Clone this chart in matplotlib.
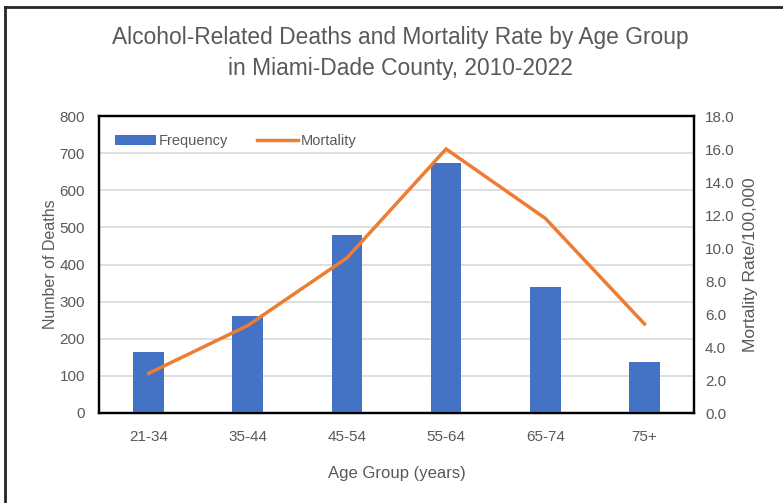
import matplotlib
matplotlib.use('Agg')
import matplotlib.pyplot as plt
from matplotlib.lines import Line2D
import numpy as np

plt.rcParams['font.family'] = ['Liberation Sans', 'DejaVu Sans']

age_groups = ['21-34', '35-44', '45-54', '55-64', '65-74', '75+']
frequency = [164, 261, 480, 673, 340, 137]
mortality = [2.4, 5.3, 9.4, 16.0, 11.8, 5.4]

TEXT = '#595959'
BLUE = '#4472C4'
ORANGE = '#ED7D31'

fig = plt.figure(figsize=(7.83, 5.03), dpi=100)
ax = fig.add_axes([99/783, 1 - 413/503, (694 - 99)/783, (413 - 116)/503])
ax2 = ax.twinx()

x = np.arange(len(age_groups))
bars = ax.bar(x, frequency, width=0.31, color=BLUE, label='Frequency', zorder=3)
line, = ax2.plot(x, mortality, color=ORANGE, linewidth=2.5, label='Mortality',
                 solid_joinstyle='miter')

ax.set_xlim(-0.5, len(age_groups) - 0.5)
ax.set_ylim(0, 800)
ax.set_yticks(range(0, 801, 100))
ax2.set_ylim(0, 18)
ax2.set_yticks(np.arange(0, 18.1, 2))
ax2.set_yticklabels([f'{v:.1f}' for v in np.arange(0, 18.1, 2)])
ax.set_xticks(x)
ax.set_xticklabels(age_groups)

ax.grid(axis='y', color='#d9d9d9', linewidth=1.2, zorder=0)
ax.set_axisbelow(True)

for a in (ax, ax2):
    a.tick_params(length=0, colors=TEXT, labelsize=11)
    for s in a.spines.values():
        s.set_color('black')
        s.set_linewidth(1.6)
ax.tick_params(axis='x', pad=12)
ax.tick_params(axis='y', pad=10)
ax2.tick_params(axis='y', pad=8)

ax.set_ylabel('Number of Deaths', color=TEXT, fontsize=11.5, labelpad=1)
ax2.set_ylabel('Mortality Rate/100,000', color=TEXT, fontsize=12.5, labelpad=6)
ax.set_xlabel('Age Group (years)', color=TEXT, fontsize=12, labelpad=16)

fig.suptitle('Alcohol-Related Deaths and Mortality Rate by Age Group\nin Miami-Dade County, 2010-2022',
             x=400/783, y=1 - 26/503, fontsize=16.4, color=TEXT, linespacing=1.45)

ax.legend([bars, line], ['Frequency', 'Mortality'], loc='center left', ncol=2,
          frameon=False, fontsize=10.5, labelcolor=TEXT, handlelength=2.8,
          handletextpad=0.2, columnspacing=2.0, bbox_to_anchor=(0.005, 1 - 25/297))

# outer frame lines
fig.add_artist(Line2D([5/783, 5/783], [0, 1 - 7/503], color='#262626', linewidth=2))
fig.add_artist(Line2D([5/783, 1], [1 - 7/503, 1 - 7/503], color='#262626', linewidth=2))

fig.savefig('out.png', dpi=100)
